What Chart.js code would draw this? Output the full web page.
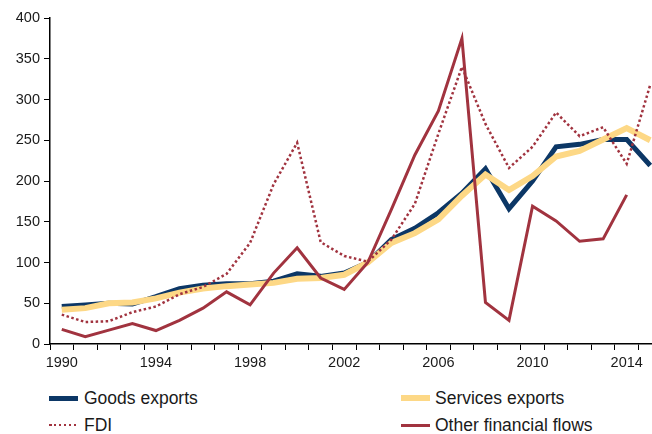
<!DOCTYPE html>
<html>
<head>
<meta charset="utf-8">
<script src="https://cdn.jsdelivr.net/npm/chart.js@4.4.1/dist/chart.umd.min.js"></script>
<style>
  html, body { margin: 0; padding: 0; background: #fff; }
  #wrap { position: relative; width: 652px; height: 434px; overflow: hidden; background: #fff; }
  #c { position: absolute; left: 0; top: 0; }
  .lg { position: absolute; font-family: "Liberation Sans", Arial, sans-serif; font-size: 17.5px; color: #1a1a1a; line-height: 20px; white-space: nowrap; }
  .sw { position: absolute; }
</style>
</head>
<body>
<div id="wrap">
  <canvas id="c" width="662" height="372"></canvas>
  <div id="legend"></div>
</div>
<script>
const years = ['1990','1991','1992','1993','1994','1995','1996','1997','1998','1999','2000','2001','2002','2003','2004','2005','2006','2007','2008','2009','2010','2011','2012','2013','2014','2015'];
const shownYearLabels = ['1990','1994','1998','2002','2006','2010','2014'];
const yTicks = [0, 50, 100, 150, 200, 250, 300, 350, 400];

const goodsExports    = [46, 48, 50, 49, 58, 68, 72, 74, 74, 77, 86, 83, 87, 100, 128, 142, 161, 185, 215, 166, 200, 242, 245, 251, 251, 219];
const servicesExports = [42, 44, 50, 51, 56, 63, 68, 71, 73, 75, 80, 81, 85, 100, 124, 136, 153, 182, 208, 189, 206, 230, 237, 251, 265, 250];
const fdi             = [36, 27, 28, 39, 46, 61, 70, 86, 124, 196, 247, 125, 108, 101, 128, 172, 258, 340, 270, 216, 242, 284, 255, 266, 221, 318];
const otherFlows      = [18, 9, 17, 25, 16.5, 29, 44, 64, 48, 87, 118, 81, 67, 100, 165, 232, 286, 375, 51, 29, 169, 151, 126, 129, 183, null];

const NAVY = '#0c3766', YELLOW = '#fdd886', RED = '#a1333f';

const datasets = [
  { label: 'Goods exports', data: goodsExports, borderColor: NAVY, borderWidth: 5, order: 4 },
  { label: 'Services exports', data: servicesExports, borderColor: YELLOW, borderWidth: 6, order: 3 },
  { label: 'FDI', data: fdi, borderColor: RED, borderWidth: 2.5, borderDash: [2.5, 2.5], order: 2 },
  { label: 'Other financial flows', data: otherFlows, borderColor: RED, borderWidth: 3, order: 1 }
].map(d => Object.assign({ pointRadius: 0, tension: 0, fill: false, borderJoinStyle: 'miter', spanGaps: false }, d));

const tickFont = { family: '"Liberation Sans", Arial, sans-serif', size: 14.5 };

new Chart(document.getElementById('c'), {
  type: 'line',
  data: { labels: years, datasets },
  options: {
    responsive: false,
    animation: false,
    devicePixelRatio: 1,
    layout: { padding: { top: 18, right: 0, left: 0, bottom: 0 } },
    plugins: { legend: { display: false }, tooltip: { enabled: false } },
    scales: {
      x: {
        type: 'category',
        offset: true,
        grid: { offset: true, drawOnChartArea: false, drawTicks: true, tickLength: 6, color: '#000', lineWidth: 1 },
        border: { color: '#000', width: 1.5 },
        ticks: {
          autoSkip: false, maxRotation: 0, minRotation: 0, padding: 4,
          color: '#1a1a1a', font: tickFont,
          callback: function (v, i) { const l = years[i]; return shownYearLabels.includes(l) ? l : ''; }
        },
        afterFit: s => { s.height = 28; }
      },
      y: {
        min: 0, max: 400,
        afterBuildTicks: s => { s.ticks = yTicks.map(v => ({ value: v })); },
        grid: { drawOnChartArea: false, drawTicks: true, tickLength: 6, color: '#000', lineWidth: 1 },
        border: { color: '#000', width: 1.5 },
        ticks: { padding: 4, color: '#1a1a1a', font: tickFont },
        afterFit: s => { s.width = 50; }
      }
    }
  }
});

// HTML legend built from the datasets
const legendPos = [
  { sx: 49, tx: 84, y: 398 },
  { sx: 401, tx: 435, y: 398 },
  { sx: 49, tx: 84, y: 425 },
  { sx: 401, tx: 435, y: 425 }
];
const lg = document.getElementById('legend');
datasets.forEach((d, i) => {
  const p = legendPos[i];
  const sw = document.createElement('div');
  sw.className = 'sw';
  const h = d.borderWidth;
  sw.style.left = p.sx + 'px';
  sw.style.width = '29px';
  sw.style.height = h + 'px';
  sw.style.top = (p.y - h / 2) + 'px';
  if (d.borderDash) {
    sw.style.background = 'repeating-linear-gradient(to right, ' + d.borderColor + ' 0 2.5px, transparent 2.5px 5px)';
  } else {
    sw.style.background = d.borderColor;
  }
  lg.appendChild(sw);
  const t = document.createElement('div');
  t.className = 'lg';
  t.textContent = d.label;
  t.style.left = p.tx + 'px';
  t.style.top = (p.y - 10) + 'px';
  lg.appendChild(t);
});
</script>
</body>
</html>
